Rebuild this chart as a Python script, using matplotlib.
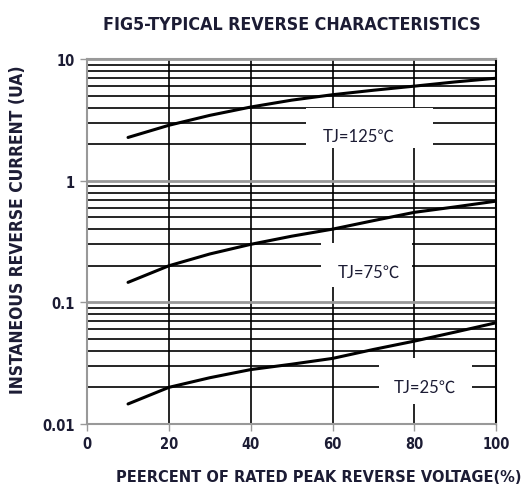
import matplotlib.pyplot as plt
from matplotlib.patches import Rectangle
from matplotlib.ticker import LogLocator, NullFormatter

pct = [10, 20, 30, 40, 50, 60, 70, 80, 90, 100]
ir_125 = [2.27, 2.86, 3.45, 4.04, 4.6, 5.1, 5.55, 6.0, 6.5, 6.97]
ir_75 = [0.146, 0.20, 0.25, 0.30, 0.35, 0.40, 0.47, 0.55, 0.61, 0.68]
ir_25 = [0.0146, 0.020, 0.024, 0.028, 0.031, 0.0346, 0.041, 0.048, 0.057, 0.068]

labels = ["TJ=125\u2103", "TJ=75\u2103", "TJ=25\u2103"]
x_ticks = [0, 20, 40, 60, 80, 100]
y_ticks = [0.01, 0.1, 1, 10]
y_ticklabels = ["0.01", "0.1", "1", "10"]

narrow = dict(family='DejaVu Sans', stretch='condensed', fontweight='bold')
txt_col = '#1c1c34'

fig = plt.figure(figsize=(5.28, 4.89), dpi=100)
ax = fig.add_axes([0.165, 0.131, 0.775, 0.746])
ax.set_yscale('log')
ax.set_xlim(0, 100)
ax.set_ylim(0.01, 10)

# grid
ax.yaxis.set_minor_locator(LogLocator(base=10, subs=range(2, 10)))
ax.yaxis.set_minor_formatter(NullFormatter())
ax.grid(which='minor', axis='y', color='black', lw=1.2, zorder=1)
ax.grid(which='major', axis='y', color='#999999', lw=2.0, zorder=1)
for xv in x_ticks[1:-1]:
    ax.axvline(xv, color='black', lw=1.2, zorder=1)

# white boxes behind the curve labels
boxes = [(53.6, 1.87, 84.5, 3.97), (57.2, 0.133, 79.5, 0.31), (71.3, 0.0146, 94.1, 0.035)]
for x0, y0, x1, y1 in boxes:
    ax.add_patch(Rectangle((x0, y0), x1 - x0, y1 - y0, facecolor='white',
                           edgecolor='none', zorder=2))

for ir in (ir_125, ir_75, ir_25):
    ax.plot(pct, ir, color='black', lw=2.2, zorder=3, solid_capstyle='round')

label_pos = [(66.5, 2.34), (68.8, 0.18), (82.6, 0.0203)]
for lab, (lx, ly) in zip(labels, label_pos):
    ax.text(lx, ly, lab, ha='center', va='center', fontsize=12, color=txt_col,
            family=['Lato', 'Noto Sans CJK SC', 'DejaVu Sans'], zorder=4)

ax.set_xticks(x_ticks)
ax.set_yticks(y_ticks)
ax.set_yticklabels(y_ticklabels)
ax.tick_params(which='major', length=5, width=1, color='#999999', labelsize=10.5,
               labelcolor=txt_col, pad=4)
ax.tick_params(which='minor', length=0)
for lbl in ax.get_xticklabels() + ax.get_yticklabels():
    lbl.set_fontweight('bold')
    lbl.set_family('DejaVu Sans')
    lbl.set_stretch('condensed')

for side in ['left', 'top', 'bottom']:
    ax.spines[side].set_color('#999999')
    ax.spines[side].set_linewidth(1.5)
ax.spines['right'].set_color('black')
ax.spines['right'].set_linewidth(1.5)

ax.set_title("FIG5-TYPICAL REVERSE CHARACTERISTICS", fontsize=12.8,
             color=txt_col, pad=22, **narrow)
ax.set_xlabel("PEERCENT OF RATED PEAK REVERSE VOLTAGE(%)", fontsize=11.7,
              color=txt_col, **narrow)
ax.xaxis.set_label_coords(0.565, -0.124)
ax.set_ylabel("INSTANEOUS REVERSE CURRENT (UA)", fontsize=12.5,
              color=txt_col, **narrow)
ax.yaxis.set_label_coords(-0.148, 0.534)

fig.savefig('out.png', dpi=100)
